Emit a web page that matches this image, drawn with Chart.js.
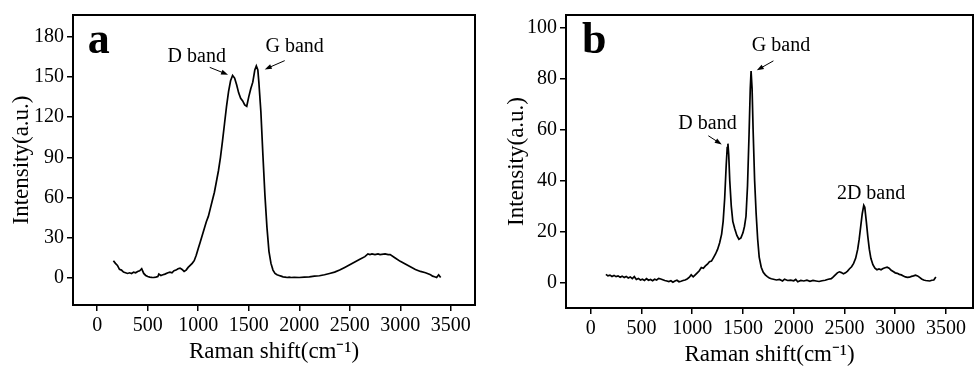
<!DOCTYPE html>
<html>
<head>
<meta charset="utf-8">
<script src="https://cdn.jsdelivr.net/npm/chart.js@4.4.0/dist/chart.umd.min.js"></script>
<style>
  body { margin: 0; background: #fff; }
  .panel { position: absolute; top: 0; }
</style>
</head>
<body>
<canvas id="chartA" class="panel" width="487" height="372" style="left:0"></canvas>
<canvas id="chartB" class="panel" width="488" height="372" style="left:487px"></canvas>
<script>
// Raman spectra, values
const shiftA = [160, 180, 200, 220, 240, 260, 280, 300, 320, 340, 360, 380, 400, 420, 440, 460, 480, 500, 520, 540,
  560, 580, 600, 610, 630, 650, 670, 700, 720, 740, 760, 780, 800, 820, 840, 860, 880, 900, 920, 940,
  960, 980, 1000, 1020, 1040, 1060, 1080, 1100, 1120, 1140, 1160, 1180, 1200, 1220, 1240, 1260, 1280, 1300, 1320, 1340,
  1360, 1380, 1400, 1420, 1440, 1460, 1480, 1500, 1520, 1540, 1560, 1575, 1590, 1600, 1620, 1640, 1660, 1680, 1700, 1720,
  1740, 1760, 1780, 1800, 1820, 1840, 1860, 1880, 1900, 1920, 1950, 2000, 2050, 2100, 2150, 2200, 2250, 2300, 2350, 2400,
  2450, 2500, 2550, 2600, 2650, 2680, 2700, 2720, 2750, 2780, 2800, 2850, 2880, 2900, 2950, 3000, 3050, 3100, 3150, 3200,
  3250, 3300, 3320, 3340, 3360, 3380, 3400];
const intensityA = [13, 11, 9.5, 6.5, 6, 4.5, 4, 3.5, 4, 3.5, 4.5, 4, 5, 5.5, 7, 3.5, 2, 1.2, 0.8, 0.6,
  0.5, 0.8, 1.2, 3, 2, 2.5, 3, 4, 4.5, 4, 5.5, 6, 7, 7.5, 6.5, 5, 6, 8, 9.5, 11,
  13, 17, 22, 27, 32, 37, 42, 46, 52, 58, 64, 72, 80, 90, 102, 115, 128, 139, 147, 151,
  149, 144, 138, 134, 132, 129, 128, 135, 141, 146, 155, 158, 155, 146, 124, 92, 62, 38, 20, 11,
  6, 3.5, 2.5, 2, 1.5, 1, 0.8, 0.5, 0.8, 0.5, 0.6, 0.5, 0.8, 1, 1.5, 1.8, 2.5, 3.5, 4.5, 6,
  8, 10, 12, 14, 16, 18, 17.5, 18, 17.5, 18, 17.5, 18, 17.5, 17.5, 15, 12.5, 10.5, 8.5, 6.5, 5,
  4, 2.5, 1.5, 1, 0.5, 2.5, 0.5];

const shiftB = [150, 170, 190, 210, 230, 250, 270, 290, 310, 330, 350, 370, 390, 410, 430, 450, 470, 490, 510, 530,
  550, 570, 590, 610, 630, 650, 670, 690, 710, 730, 750, 770, 790, 810, 830, 850, 870, 890, 910, 930,
  950, 970, 990, 1010, 1030, 1050, 1070, 1090, 1110, 1130, 1150, 1170, 1190, 1210, 1230, 1250, 1270, 1290, 1305, 1320,
  1335, 1345, 1352, 1360, 1370, 1385, 1400, 1420, 1440, 1460, 1480, 1500, 1515, 1530, 1545, 1560, 1572, 1580, 1590, 1600,
  1615, 1630, 1645, 1660, 1680, 1700, 1720, 1740, 1760, 1780, 1800, 1830, 1860, 1890, 1910, 1940, 1970, 2000, 2020, 2040,
  2070, 2100, 2130, 2160, 2190, 2220, 2250, 2280, 2310, 2340, 2370, 2390, 2410, 2430, 2450, 2470, 2490, 2510, 2530, 2550,
  2570, 2590, 2610, 2630, 2645, 2660, 2675, 2690, 2700, 2715, 2730, 2745, 2760, 2780, 2800, 2820, 2840, 2860, 2880, 2900,
  2920, 2940, 2960, 2980, 3000, 3020, 3040, 3060, 3080, 3100, 3120, 3140, 3160, 3180, 3200, 3220, 3240, 3260, 3280, 3300,
  3320, 3340, 3360, 3380, 3400];
const intensityB = [3.2, 2.6, 2.9, 2.4, 2.8, 2.3, 2.6, 2.1, 2.5, 2.0, 2.4, 1.8, 2.2, 1.5, 2.3, 1.2, 1.6, 1.0, 1.3, 0.8,
  1.5, 0.9, 1.2, 0.7, 1.3, 1.0, 1.6, 1.4, 1.1, 0.8, 0.6, 0.4, 0.7, 0.1, 0.6, 0.9, 0.3, 0.5, 0.8, 1.0,
  1.4, 2.0, 3.0, 2.2, 3.0, 3.8, 4.6, 5.9, 5.6, 6.5, 7.2, 8.2, 8.4, 9.8, 11.2, 13.0, 15.5, 19.0, 24, 33,
  46, 53, 54.5, 50, 40, 30, 24, 21, 18.5, 17, 17.5, 19.5, 22, 26, 38, 58, 76, 83, 76, 60,
  40, 27, 17, 10, 6, 4, 3, 2.3, 1.8, 1.5, 1.3, 1.0, 1.2, 0.6, 1.3, 0.8, 0.9, 0.7, 1.2, 0.3,
  0.8, 0.6, 0.9, 0.5, 0.8, 0.6, 0.4, 0.7, 0.9, 1.3, 1.5, 2.2, 3.0, 3.8, 4.2, 3.9, 3.4, 3.8, 4.5, 5.4,
  6.2, 7.5, 9.5, 13, 17, 22, 27, 30.3, 29.5, 24, 18, 13, 9.5, 7, 5.6, 5.0, 5.3, 5.0, 5.5, 5.8,
  6.0, 5.6, 4.8, 4.3, 3.8, 3.6, 3.2, 3.0, 2.6, 2.2, 2.0, 2.1, 2.4, 2.6, 2.9, 2.6, 2.0, 1.4, 1.0, 0.8,
  0.7, 0.6, 0.9, 1.0, 2.2];

const xTicks = [0, 500, 1000, 1500, 2000, 2500, 3000, 3500];
const yTicksA = [0, 30, 60, 90, 120, 150, 180];
const yTicksB = [0, 20, 40, 60, 80, 100];

Chart.defaults.font.family = '"Liberation Serif", "Times New Roman", serif';
Chart.defaults.color = '#000';

// box round the plot plus band labels, arrows and panel letter
const frameNotes = {
    id: 'frameNotes',
    afterDatasetsDraw(chart, args, opts) {
        const ctx = chart.ctx, a = chart.chartArea;
        const sx = chart.scales.x, sy = chart.scales.y;
        ctx.save();
        ctx.strokeStyle = '#000';
        ctx.lineWidth = 2;
        ctx.strokeRect(a.left, a.top, a.right - a.left, a.bottom - a.top);

        ctx.fillStyle = '#000';
        ctx.textAlign = 'left';
        ctx.textBaseline = 'alphabetic';
        ctx.font = 'bold 44px "Liberation Serif", serif';
        ctx.fillText(opts.letter.text, sx.getPixelForValue(opts.letter.x), sy.getPixelForValue(opts.letter.y));

        ctx.font = '20px "Liberation Serif", serif';
        ctx.textAlign = 'center';
        ctx.textBaseline = 'middle';
        opts.labels.forEach(function (l) {
            ctx.fillText(l.text, sx.getPixelForValue(l.x), sy.getPixelForValue(l.y));
        });

        ctx.lineWidth = 1;
        opts.arrows.forEach(function (ar) {
            const x1 = sx.getPixelForValue(ar[0]), y1 = sy.getPixelForValue(ar[1]);
            const x2 = sx.getPixelForValue(ar[2]), y2 = sy.getPixelForValue(ar[3]);
            const ang = Math.atan2(y2 - y1, x2 - x1);
            ctx.beginPath();
            ctx.moveTo(x1, y1);
            ctx.lineTo(x2 - 5 * Math.cos(ang), y2 - 5 * Math.sin(ang));
            ctx.stroke();
            ctx.beginPath();
            ctx.moveTo(x2, y2);
            ctx.lineTo(x2 - 7 * Math.cos(ang) + 2.5 * Math.sin(ang), y2 - 7 * Math.sin(ang) - 2.5 * Math.cos(ang));
            ctx.lineTo(x2 - 7 * Math.cos(ang) - 2.5 * Math.sin(ang), y2 - 7 * Math.sin(ang) + 2.5 * Math.cos(ang));
            ctx.closePath();
            ctx.fill();
        });
        ctx.restore();
    }
};

function plainTick(v) { return String(v); }

function makeChart(id, xs, ys, cfg) {
    const points = xs.map(function (x, i) { return { x: x, y: ys[i] }; });
    return new Chart(document.getElementById(id), {
        type: 'line',
        data: {
            datasets: [{
                data: points,
                borderColor: '#000',
                borderWidth: 1.7,
                pointRadius: 0,
                tension: 0,
                fill: false
            }]
        },
        options: {
            responsive: false,
            animation: false,
            events: [],
            layout: { padding: { top: 5, right: cfg.padRight, left: 0, bottom: 0 } },
            plugins: {
                legend: { display: false },
                tooltip: { enabled: false },
                frameNotes: cfg.notes
            },
            scales: {
                x: {
                    type: 'linear',
                    min: cfg.xMin,
                    max: cfg.xMax,
                    afterBuildTicks: function (s) { s.ticks = xTicks.map(function (v) { return { value: v }; }); },
                    afterFit: function (s) { s.height = cfg.xAxisHeight; },
                    grid: { drawOnChartArea: false, color: '#000', lineWidth: 1.5, tickLength: 6 },
                    border: { display: true, color: '#000', width: 2 },
                    ticks: { font: { size: 20 }, padding: 3, maxRotation: 0, autoSkip: false, callback: plainTick },
                    title: { display: true, text: 'Raman shift(cm⁻¹)', font: { size: 23 }, padding: { top: 0, bottom: cfg.xTitlePad } }
                },
                y: {
                    min: cfg.yMin,
                    max: cfg.yMax,
                    afterBuildTicks: function (s) { s.ticks = cfg.yTicks.map(function (v) { return { value: v }; }); },
                    afterFit: function (s) { s.width = cfg.yAxisWidth; },
                    grid: { drawOnChartArea: false, color: '#000', lineWidth: 1.5, tickLength: 6 },
                    border: { display: true, color: '#000', width: 2 },
                    ticks: { font: { size: 20 }, padding: 3, autoSkip: false, callback: plainTick },
                    title: { display: true, text: 'Intensity(a.u.)', font: { size: 23 }, padding: { top: cfg.yTitlePad, bottom: 0 } }
                }
            }
        },
        plugins: [frameNotes]
    });
}

makeChart('chartA', shiftA, intensityA, {
    xMin: -240, xMax: 3740, yMin: -20, yMax: 196, yTicks: yTicksA,
    yAxisWidth: 73, xAxisHeight: 67, padRight: 12, xTitlePad: 6, yTitlePad: 8,
    notes: {
        letter: { text: 'a', x: -95, y: 168 },
        labels: [
            { text: 'D band', x: 985, y: 165 },
            { text: 'G band', x: 1955, y: 172 }
        ],
        arrows: [[1114, 157, 1295, 151.5], [1856, 162, 1658, 155.5]]
    }
});

makeChart('chartB', shiftB, intensityB, {
    xMin: -243, xMax: 3766, yMin: -10, yMax: 105, yTicks: yTicksB,
    yAxisWidth: 79, xAxisHeight: 64, padRight: 2, xTitlePad: 3, yTitlePad: 16,
    notes: {
        letter: { text: 'b', x: -86, y: 90 },
        labels: [
            { text: 'D band', x: 1151, y: 62.5 },
            { text: 'G band', x: 1875, y: 93 },
            { text: '2D band', x: 2762, y: 35 }
        ],
        arrows: [[1159, 57.6, 1291, 54.2], [1800, 87, 1636, 83.3]]
    }
});
</script>
</body>
</html>
